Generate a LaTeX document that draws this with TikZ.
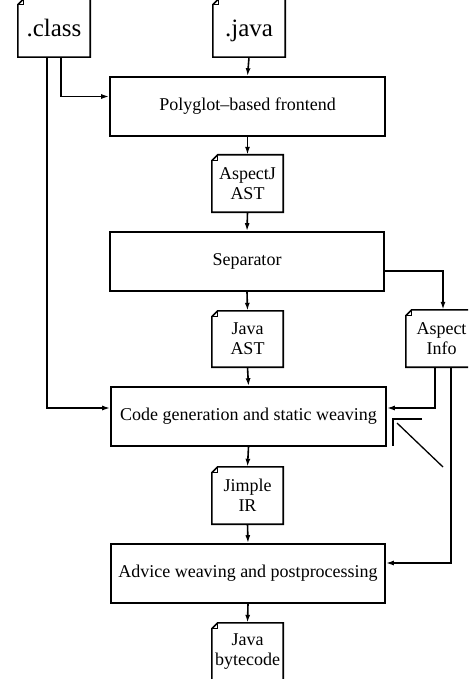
\documentclass[tikz,border=0pt]{standalone}
\usepackage{fontspec}
\setmainfont{Liberation Serif}
\usetikzlibrary{arrows.meta}
\begin{document}
\begin{tikzpicture}[x=1pt,y=-1pt,
  line/.style={line width=1.6pt},
  proc/.style={draw, line width=1.6pt, minimum width=275pt, minimum height=59pt,
    inner sep=0pt, font=\fontsize{18}{20}\selectfont},
  doc/.style={minimum width=71pt, minimum height=57pt, inner sep=0pt, align=center,
    font=\fontsize{18}{20}\selectfont},
  src/.style={doc, minimum width=72pt, minimum height=58pt,
    font=\fontsize{25}{28}\selectfont, text depth=0pt},
  flow/.style={line width=1.6pt, -{Latex[length=8pt,width=5pt]}},
]
\useasboundingbox (0,0) rectangle (468,679);
\clip (0,0) rectangle (468,679);
\fill[white] (0,0) rectangle (468,679);

% source files
\node[src] (cls) at (54,28) {.class};
\node[src] (jav) at (249,28) {.java};

% compiler stages
\node[proc] (poly) at (247.5,106.5) {Polyglot--based frontend};
\node[doc]  (ast)  at (247.5,183.5) {AspectJ\\AST};
\node[proc, minimum width=274pt] (sep) at (247,261.5) {Separator};
\node[doc, minimum height=56pt] (jast) at (247.5,339) {Java\\AST};
\node[doc]  (info) at (441.5,338.5) {Aspect\\Info};
\node[proc] (code) at (248.5,416.5) {Code generation and static weaving};
\node[doc]  (jim)  at (247.5,495.5) {Jimple\\IR};
\node[proc, minimum width=274pt] (adv) at (248,573.5) {Advice weaving and postprocessing};
\node[doc]  (byte) at (247.5,651.5) {Java\\bytecode};

% document outlines with a folded corner
\foreach \n in {cls,jav,ast,jast,info,jim,byte}{
  \draw[line, line join=miter]
    ([yshift=-6pt]\n.north west) -- ([xshift=6pt]\n.north west) -- (\n.north east)
    -- (\n.south east) -- (\n.south west) -- cycle;
  \draw[line width=1pt]
    ([yshift=-6pt]\n.north west) -- ([xshift=6pt,yshift=-6pt]\n.north west)
    -- ([xshift=6pt]\n.north west);
}

% data flow
\draw[flow] ([xshift=7pt]cls.south) |- ([yshift=10pt]poly.west);
\draw[flow] ([xshift=-7pt]cls.south) |- ([yshift=8.5pt]code.west);
\draw[flow] (jav.south) -- (poly.north);
\draw[flow] (poly.south) -- (ast.north);
\draw[flow] (ast.south) -- (sep.north);
\draw[flow] (sep.south) -- (jast.north);
\draw[flow] ([yshift=-9.5pt]sep.east) -| ([xshift=1.5pt]info.north);
\draw[flow] (jast.south) -- (code.north);
\draw[flow] ([xshift=-6.5pt]info.south) |- ([yshift=8.5pt]code.east);
\draw[flow] (code.south) -- (jim.north);
\draw[flow] (jim.south) -- (adv.north);
\draw[flow] ([xshift=9.5pt]info.south) |- ([yshift=10.5pt]adv.east);
\draw[flow] (adv.south) -- (byte.north);

% pointer at the weaving stage
\draw[line width=1.3pt] (422,419) -- (393,419) -- (393,446);
\draw[line width=1.3pt] (397,423) -- (443,467);
\end{tikzpicture}
\end{document}
